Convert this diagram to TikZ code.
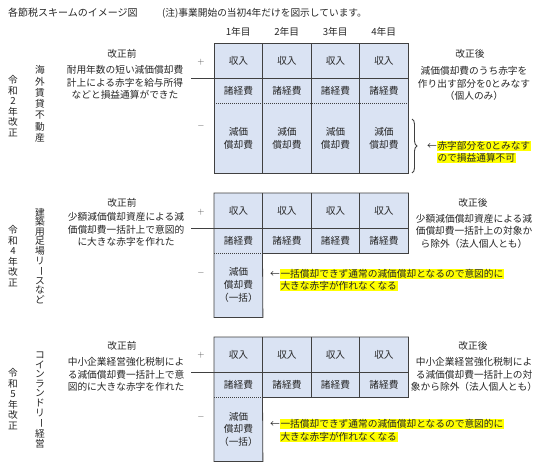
\documentclass[tikz,border=0pt]{standalone}
\usepackage{fontspec}
\setmainfont{Noto Sans CJK JP}
\usetikzlibrary{decorations.pathreplacing}
\definecolor{cellfill}{HTML}{DAE3F3}
\definecolor{gridline}{HTML}{404040}
\definecolor{txt}{HTML}{262626}
\definecolor{signgray}{HTML}{505050}
\definecolor{hlyellow}{HTML}{FFFF00}
\newcommand\hlyel[1]{{\setlength\fboxsep{0.6pt}\colorbox{hlyellow}{#1}}}
\newcommand\vbar{\rotatebox[origin=c]{-90}{ー}}
\begin{document}
\begin{tikzpicture}[x=1pt,y=-1pt,
  every node/.style={text=txt, inner sep=0pt, font=\fontsize{9.7}{12.8}\selectfont},
  cell/.style={fill=cellfill, minimum width=48.5pt, anchor=north west, align=center},
  rowa/.style={cell, minimum height=35pt},
  rowb/.style={cell, minimum height=25pt},
  gridl/.style={draw=gridline, line width=0.8pt},
  dotl/.style={draw=gridline, line width=0.8pt, dash pattern=on 0.8pt off 1.2pt},
  sign/.style={text=signgray, font=\fontsize{9}{10}\selectfont},
  vstack/.style={align=center},
  body/.style={align=center, font=\fontsize{9.7}{12.6}\selectfont},
  yellownote/.style={anchor=west, align=left, font=\fontsize{9.7}{12.4}\selectfont},
  bracel/.style={draw=gridline, line width=0.9pt, decorate, decoration={brace, amplitude=5pt}}]
\fill[white] (0,0) rectangle (540,463);
\useasboundingbox (0,0) rectangle (540,463);

% header
\node[anchor=west, font=\fontsize{10}{12}\selectfont] (title) at (8,13) {各節税スキームのイメージ図};
\node[anchor=west] (note) at (162,13) {(注)事業開始の当初4年だけを図示しています。};
\node (y1) at (238.25,32) {1年目};
\node (y2) at (286.75,32) {2年目};
\node (y3) at (335.25,32) {3年目};
\node (y4) at (383.75,32) {4年目};

% ---------- section 1 ----------
\foreach \i in {1,...,4}{
  \node[rowa] (s1a\i) at ({214+(\i-1)*48.5},43) {収入};
  \node[rowb] (s1b\i) at ({214+(\i-1)*48.5},78) {諸経費};
  \node[cell, minimum height=70pt] (s1c\i) at ({214+(\i-1)*48.5},103) {減価\\償却費};
}
\draw[gridl] (s1a1.north west) rectangle (s1c4.south east);
\foreach \i in {2,3,4} \draw[gridl] (s1a\i.north west) -- (s1c\i.south west);
\draw[gridl] ([xshift=-23pt]s1a1.south west) -- (s1a4.south east);
\draw[dotl] (s1b1.south west) -- (s1b4.south east);
\node[sign] (s1plus) at (201,62) {$+$};
\node[sign] (s1minus) at (201,126) {$-$};

\node[vstack, font=\fontsize{9.7}{10.6}\selectfont] (s1era) at (13,106) {令\\和\\2\\年\\改\\正};
\node[vstack, font=\fontsize{9.7}{11.3}\selectfont] (s1kind) at (40,104) {海\\外\\賃\\貸\\不\\動\\産};
\node (s1pre) at (122,54) {改正前};
\node[body] (s1pretext) at (125,82.5) {耐用年数の短い減価償却費\\計上による赤字を給与所得\\などと損益通算ができた};
\node (s1post) at (470,54) {改正後};
\node[body] (s1posttext) at (474,83.5) {減価償却費のうち赤字を\\作り出す部分を0とみなす\\（個人のみ）};
\coordinate (b1t) at (412,119);
\coordinate (b1b) at (412,173);
\draw[bracel] (b1t) -- (b1b);
\node[yellownote] (s1yel) at (427,152) {←\hlyel{赤字部分を0とみなす}\\\phantom{←}\hlyel{ので損益通算不可}};

% ---------- section 2 ----------
\foreach \i in {1,...,4}{
  \node[rowa] (s2a\i) at ({214+(\i-1)*48.5},193) {収入};
  \node[rowb] (s2b\i) at ({214+(\i-1)*48.5},228) {諸経費};
}
\node[cell, minimum height=64pt] (s2c1) at (214,253) {減価\\償却費\\（一括）};
\draw[gridl] (s2a1.north west) -- (s2a4.north east) -- (s2b4.south east) -- (s2b2.south west) -- (s2c1.south east) -- (s2c1.south west) -- cycle;
\foreach \i in {2,3,4} \draw[gridl] (s2a\i.north west) -- (s2b\i.south west);
\draw[gridl] ([xshift=-23pt]s2a1.south west) -- (s2a4.south east);
\draw[dotl] (s2b1.south west) -- (s2b1.south east);
\node[sign] (s2plus) at (201,212) {$+$};
\node[sign] (s2minus) at (201,273) {$-$};

\node[vstack, font=\fontsize{9.7}{10.6}\selectfont] (s2era) at (13,256) {令\\和\\4\\年\\改\\正};
\node[vstack, font=\fontsize{9.7}{9.6}\selectfont] (s2kind) at (40,256) {建\\築\\用\\足\\場\\リ\\\vbar\\ス\\な\\ど};
\node (s2pre) at (122,203) {改正前};
\node[body] (s2pretext) at (126,229.5) {少額減価償却資産による減\\価償却費一括計上で意図的\\に大きな赤字を作れた};
\node (s2post) at (473,203) {改正後};
\node[body] (s2posttext) at (474,231) {少額減価償却資産による減\\価償却費一括計上の対象か\\ら除外（法人個人とも）};
\node[yellownote] (s2yel) at (270,280) {←\hlyel{一括償却できず通常の減価償却となるので意図的に}\\\phantom{←}\hlyel{大きな赤字が作れなくなる}};

% ---------- section 3 ----------
\foreach \i in {1,...,4}{
  \node[rowa] (s3a\i) at ({214+(\i-1)*48.5},337) {収入};
  \node[rowb] (s3b\i) at ({214+(\i-1)*48.5},372) {諸経費};
}
\node[cell, minimum height=64pt] (s3c1) at (214,397) {減価\\償却費\\（一括）};
\draw[gridl] (s3a1.north west) -- (s3a4.north east) -- (s3b4.south east) -- (s3b2.south west) -- (s3c1.south east) -- (s3c1.south west) -- cycle;
\foreach \i in {2,3,4} \draw[gridl] (s3a\i.north west) -- (s3b\i.south west);
\draw[gridl] ([xshift=-23pt]s3a1.south west) -- (s3a4.south east);
\draw[dotl] (s3b1.south west) -- (s3b1.south east);
\node[sign] (s3plus) at (201,355) {$+$};
\node[sign] (s3minus) at (201,417) {$-$};

\node[vstack, font=\fontsize{9.7}{10.6}\selectfont] (s3era) at (13,399) {令\\和\\5\\年\\改\\正};
\node[vstack, font=\fontsize{9.7}{9.6}\selectfont] (s3kind) at (40,400) {コ\\イ\\ン\\ラ\\ン\\ド\\リ\\\vbar\\経\\営};
\node (s3pre) at (122,346) {改正前};
\node[body] (s3pretext) at (126,374.5) {中小企業経営強化税制によ\\る減価償却費一括計上で意\\図的に大きな赤字を作れた};
\node (s3post) at (473,346) {改正後};
\node[body] (s3posttext) at (474,374.5) {中小企業経営強化税制によ\\る減価償却費一括計上の対\\象から除外（法人個人とも）};
\node[yellownote] (s3yel) at (270,430.5) {←\hlyel{一括償却できず通常の減価償却となるので意図的に}\\\phantom{←}\hlyel{大きな赤字が作れなくなる}};
\end{tikzpicture}
\end{document}
